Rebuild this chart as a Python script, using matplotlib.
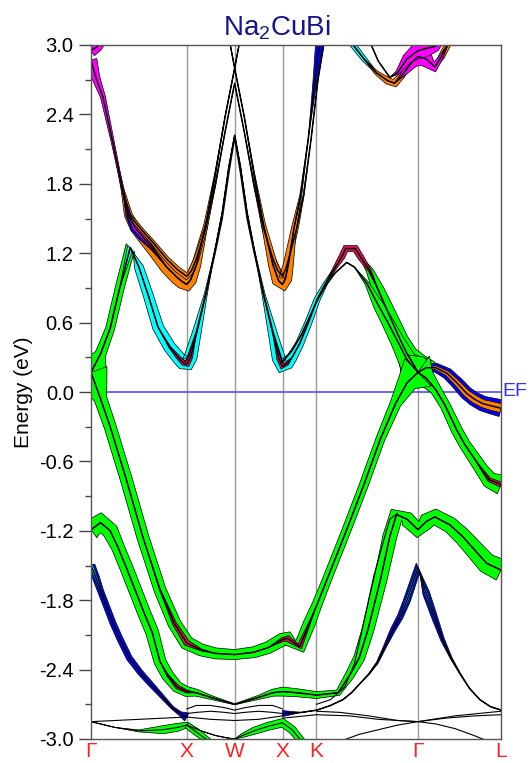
import matplotlib.pyplot as plt
import numpy as np
from matplotlib.ticker import MultipleLocator

plt.rcParams['font.family'] = ['Liberation Sans', 'DejaVu Sans']
plt.rcParams['axes.unicode_minus'] = False
plt.rcParams['mathtext.default'] = 'regular'

# high-symmetry path of the fcc zone (units of 2pi/a)
k_sym = [0.0, 1.0, 1.5, 2.0, 2.354, 3.414, 4.281]
k_names = ['Γ', 'X', 'W', 'X', 'K', 'Γ', 'L']
e_ticks = [-3.0, -2.4, -1.8, -1.2, -0.6, 0.0, 0.6, 1.2, 1.8, 2.4, 3.0]

GREEN = '#00ff00'
CYAN = '#00ffff'
ORANGE = '#ff8000'
MAGENTA = '#ff00ff'
BLUE = '#0000ff'
RED = '#e0105a'

# ---- conduction bands ----
# lowest conduction band along the whole path G-X-W-X-K-G
k_c1 = [0.0, 0.1, 0.2, 0.3, 0.41, 0.5, 0.6, 0.7, 0.82, 0.92,
        0.97, 1.0, 1.04, 1.1, 1.2, 1.3, 1.37, 1.44, 1.5, 1.56,
        1.63, 1.7, 1.8, 1.9, 1.96, 2.0, 2.05, 2.1, 2.18, 2.27,
        2.36, 2.45, 2.53, 2.62, 2.66, 2.76, 2.82, 2.91, 3.0, 3.09,
        3.16, 3.23, 3.3, 3.36, 3.414]
e_c1 = [0.17, 0.33, 0.55, 0.9, 1.25, 1.08, 0.83, 0.56, 0.39, 0.29,
        0.25, 0.24, 0.3, 0.5, 0.85, 1.25, 1.55, 1.95, 2.22, 1.95,
        1.55, 1.25, 0.85, 0.5, 0.29, 0.22, 0.25, 0.3, 0.42, 0.6,
        0.8, 0.94, 1.05, 1.17, 1.24, 1.24, 1.16, 1.05, 0.88, 0.71,
        0.58, 0.45, 0.33, 0.25, 0.17]
w_c1_green = [1.7, 0.55, 0.45, 0.45, 0.55, 0.3, 0, 0, 0, 0,
              0, 0, 0, 0, 0, 0, 0, 0, 0, 0,
              0, 0, 0, 0, 0, 0, 0, 0, 0, 0,
              0, 0, 0, 0, 0, 0, 0.1, 0.35, 0.6, 0.7,
              0.75, 0.8, 1.0, 1.4, 2.0]
w_c1_cyan = [0, 0, 0, 0, 0.35, 0.45, 0.5, 0.55, 0.6, 0.65,
             0.7, 0.7, 0.65, 0.45, 0.15, 0, 0, 0, 0, 0,
             0, 0, 0.15, 0.45, 0.65, 0.7, 0.65, 0.5, 0.4, 0.35,
             0.3, 0.2, 0.1, 0, 0, 0, 0, 0, 0, 0,
             0, 0, 0, 0, 0]
w_c1_red = [0, 0, 0, 0, 0, 0, 0, 0, 0.1, 0.2,
            0.25, 0.3, 0.2, 0, 0, 0, 0, 0, 0, 0,
            0, 0, 0, 0, 0.2, 0.3, 0.2, 0, 0, 0,
            0, 0, 0.15, 0.3, 0.35, 0.35, 0.3, 0.15, 0, 0,
            0, 0, 0, 0, 0]
k_c1b = [1.0, 1.1, 1.2, 1.3, 1.37, 1.44, 1.5, 1.56, 1.63, 1.7, 1.8, 1.9, 2.0]
e_c1b = [0.28, 0.52, 0.85, 1.22, 1.5, 1.9, 2.2, 1.9, 1.5, 1.22, 0.85, 0.52, 0.26]

k_c2 = [2.0, 2.1, 2.2, 2.3, 2.36, 2.45, 2.55, 2.67, 2.75, 2.88, 3.0, 3.1, 3.2, 3.3, 3.414]
e_c2 = [0.26, 0.36, 0.5, 0.68, 0.79, 0.92, 1.03, 1.12, 1.08, 0.94, 0.75, 0.6, 0.44, 0.28, 0.17]
w_c2_green = [0, 0, 0, 0, 0, 0, 0, 0, 0, 0.2, 0.5, 0.6, 0.7, 0.9, 1.8]

k_u0 = [0.0, 0.07, 0.15]
e_u0 = [2.95, 2.99, 3.06]
w_u0_magenta = [0.6, 0.5, 0.3]

k_u1 = [0.0, 0.05, 0.125, 0.23, 0.33, 0.39, 0.46, 0.54, 0.65, 0.79,
        0.9, 0.96, 1.0, 1.04, 1.1, 1.2, 1.3, 1.4, 1.5, 1.58]
e_u1 = [2.87, 2.72, 2.55, 2.15, 1.75, 1.53, 1.42, 1.34, 1.23, 1.08,
        0.99, 0.95, 0.93, 0.97, 1.1, 1.45, 1.9, 2.38, 2.8, 3.15]
w_u1_orange = [0, 0, 0, 0, 0.15, 0.4, 0.5, 0.55, 0.6, 0.65,
               0.7, 0.7, 0.7, 0.6, 0.45, 0.2, 0.05, 0, 0, 0]
w_u1_blue = [0, 0, 0, 0, 0, 0.25, 0.45, 0.4, 0.15, 0,
             0, 0, 0, 0, 0, 0, 0, 0, 0, 0]
w_u1_magenta = [0.6, 0.4, 0.25, 0.15, 0.1, 0.1, 0.25, 0.2, 0.1, 0,
                0, 0, 0, 0, 0, 0, 0, 0, 0, 0]

k_u2 = [0.39, 0.46, 0.54, 0.65, 0.79, 0.9, 1.0, 1.05, 1.1, 1.2,
        1.3, 1.4, 1.5, 1.6, 1.7, 1.8, 1.9, 1.95, 2.0, 2.04,
        2.08, 2.15, 2.22, 2.3, 2.37, 2.44]
e_u2 = [1.53, 1.47, 1.39, 1.29, 1.15, 1.06, 1.0, 1.05, 1.15, 1.42,
        1.8, 2.25, 2.67, 2.25, 1.8, 1.42, 1.15, 1.05, 1.0, 1.08,
        1.2, 1.42, 1.7, 2.2, 2.7, 3.05]
w_u2_orange = [0.1, 0.2, 0.2, 0.2, 0.25, 0.3, 0.35, 0.3, 0.25, 0.15,
               0.05, 0, 0, 0, 0.05, 0.15, 0.25, 0.3, 0.35, 0.3,
               0.25, 0.15, 0.05, 0, 0, 0]

k_u3 = [1.42, 1.5, 1.6, 1.7, 1.8, 1.9, 1.96, 2.0, 2.03, 2.06, 2.12, 2.19, 2.27, 2.34, 2.39]
e_u3 = [3.15, 2.8, 2.38, 1.9, 1.45, 1.1, 0.96, 0.93, 0.98, 1.1, 1.42, 1.7, 2.2, 2.7, 3.05]
w_u3_orange = [0, 0, 0, 0.05, 0.2, 0.45, 0.65, 0.7, 0.65, 0.5, 0.25, 0.1, 0, 0, 0]
w_u3_blue = [0, 0, 0, 0, 0, 0, 0, 0, 0, 0, 0, 0, 0, 0.2, 0.4]

k_ta = [2.69, 2.85, 2.98, 3.1, 3.17, 3.25, 3.35, 3.414, 3.5, 3.59, 3.66, 3.74]
e_ta = [3.05, 2.88, 2.76, 2.69, 2.67, 2.74, 2.85, 2.9, 2.88, 2.81, 2.9, 3.03]
w_ta_cyan = [0.3, 0.25, 0.1, 0, 0, 0, 0, 0, 0, 0, 0, 0]
w_ta_orange = [0, 0, 0.2, 0.35, 0.4, 0.3, 0, 0, 0, 0.2, 0.3, 0.3]
w_ta_magenta = [0, 0, 0, 0, 0, 0.2, 0.6, 0.9, 0.8, 0.5, 0.2, 0]
k_tb = [2.9, 3.0, 3.12, 3.2, 3.3, 3.414, 3.5, 3.6, 3.66]
e_tb = [3.05, 2.86, 2.72, 2.76, 2.88, 2.95, 2.97, 2.99, 3.05]
w_tb_magenta = [0, 0, 0, 0.2, 0.5, 0.8, 0.8, 0.5, 0.3]

k_ra = [3.414, 3.5, 3.6, 3.72, 3.82, 3.92, 4.0, 4.09, 4.18, 4.281]
e_ra = [0.17, 0.21, 0.21, 0.16, 0.08, -0.01, -0.06, -0.10, -0.12, -0.14]
w_ra_green = [2.0, 1.1, 0, 0, 0, 0, 0, 0, 0, 0]
w_ra_blue = [0, 0.35, 0.45, 0.55, 0.6, 0.65, 0.7, 0.75, 0.8, 0.85]
w_ra_orange = [0, 0.1, 0.2, 0.25, 0.3, 0.35, 0.4, 0.4, 0.45, 0.45]

k_rb = [3.414, 3.5, 3.6, 3.7, 3.82, 3.9, 3.99, 4.08, 4.16, 4.281]
e_rb = [0.17, 0.12, 0.02, -0.12, -0.33, -0.45, -0.56, -0.67, -0.76, -0.80]
w_rb_green = [2.0, 0.9, 0.55, 0.5, 0.55, 0.55, 0.6, 0.65, 0.8, 1.0]
w_rb_red = [0, 0, 0, 0, 0, 0, 0, 0.1, 0.2, 0.25]

# ---- valence bands ----
k_va = [0.0, 0.1, 0.2, 0.37, 0.54, 0.72, 0.87, 1.0, 1.15, 1.3, 1.5, 1.7, 1.85,
        2.0, 2.05, 2.18, 2.28, 2.354, 2.46, 2.67, 2.85, 3.02, 3.18, 3.3, 3.414]
e_va = [0.17, -0.06, -0.30, -0.76, -1.25, -1.71, -2.0, -2.17, -2.23, -2.26, -2.27, -2.25, -2.21,
        -2.14, -2.13, -2.2, -2.0, -1.85, -1.63, -1.19, -0.8, -0.41, -0.1, 0.08, 0.17]
w_va_green = [1.7, 0.65, 0.6, 0.6, 0.6, 0.6, 0.65, 0.7, 0.6, 0.55, 0.5, 0.55, 0.6,
              0.65, 0.7, 0.7, 0.6, 0.5, 0.45, 0.45, 0.45, 0.45, 0.55, 1.0, 1.9]
w_va_red = [0, 0, 0, 0, 0, 0.05, 0.2, 0.3, 0.1, 0, 0, 0, 0,
            0.2, 0.3, 0.3, 0.1, 0, 0, 0, 0, 0, 0, 0, 0]

k_vb = [0.0, 0.1, 0.2, 0.28, 0.37, 0.46, 0.55, 0.64, 0.72, 0.8, 0.9, 1.0,
        1.1, 1.25, 1.5, 1.75, 1.9, 2.0, 2.15, 2.354, 2.58, 2.7, 2.8, 2.89,
        3.02, 3.12, 3.19, 3.3, 3.414, 3.5, 3.59, 3.75, 3.88, 4.0, 4.13, 4.281]
e_vb = [-1.19, -1.13, -1.2, -1.34, -1.52, -1.71, -1.9, -2.08, -2.33, -2.45, -2.55, -2.59,
        -2.6, -2.64, -2.70, -2.64, -2.6, -2.59, -2.6, -2.62, -2.6, -2.45, -2.3, -2.06,
        -1.63, -1.25, -1.06, -1.1, -1.19, -1.12, -1.08, -1.15, -1.25, -1.36, -1.48, -1.54]
w_vb_green = [1.0, 1.0, 0.8, 0.65, 0.65, 0.65, 0.65, 0.65, 0.6, 0.6, 0.55, 0.5,
              0.35, 0.2, 0.05, 0.2, 0.35, 0.45, 0.4, 0.35, 0.3, 0.45, 0.55, 0.6,
              0.65, 0.7, 0.75, 0.75, 0.8, 0.8, 0.8, 0.8, 0.85, 0.9, 1.0, 1.1]
w_vb_red = [0, 0, 0, 0, 0, 0, 0, 0, 0, 0.1, 0.2, 0.15,
            0, 0, 0, 0, 0, 0, 0, 0, 0, 0, 0, 0,
            0, 0, 0, 0, 0, 0, 0, 0, 0, 0, 0, 0]

k_vc = [2.354, 2.5, 2.65, 2.75, 2.83, 2.95, 3.05, 3.12, 3.2]
e_vc = [-2.7, -2.66, -2.55, -2.35, -2.06, -1.6, -1.3, -1.1, -1.05]

k_ba = [0.0, 0.05, 0.1, 0.17, 0.23, 0.3, 0.4, 0.52, 0.64, 0.75, 0.85, 0.93, 1.0]
e_ba = [-1.5, -1.6, -1.72, -1.87, -2.0, -2.13, -2.3, -2.43, -2.54, -2.64, -2.73, -2.78, -2.81]
w_ba_blue = [0.4, 0.35, 0.3, 0.3, 0.3, 0.3, 0.3, 0.28, 0.25, 0.2, 0.15, 0.2, 0.45]
w_ba_cyan = [0.2, 0.15, 0.1, 0, 0, 0, 0, 0, 0, 0, 0, 0, 0]

k_bb = [2.0, 2.2, 2.36, 2.5, 2.63, 2.72, 2.81, 2.9, 2.99, 3.07, 3.15, 3.23,
        3.3, 3.414, 3.5, 3.58, 3.67, 3.76, 3.85, 3.95, 4.06, 4.17, 4.281]
e_bb = [-2.78, -2.77, -2.75, -2.71, -2.66, -2.6, -2.52, -2.44, -2.34, -2.2, -2.06, -1.94,
        -1.8, -1.52, -1.74, -1.93, -2.14, -2.3, -2.43, -2.56, -2.66, -2.72, -2.75]
w_bb_blue = [0.3, 0, 0, 0, 0, 0, 0, 0.05, 0.1, 0.15, 0.25, 0.3,
             0.35, 0.5, 0.35, 0.3, 0.2, 0.1, 0.05, 0, 0, 0, 0]
w_bb_cyan = [0, 0, 0, 0, 0, 0, 0, 0, 0, 0, 0.05, 0.1,
             0.15, 0.2, 0.15, 0.1, 0.05, 0, 0, 0, 0, 0, 0]

# ---- flat bands near the bottom ----
k_fa = [0.0, 0.5, 1.0, 1.25, 1.5, 1.75, 2.0]
e_fa = [-2.85, -2.83, -2.81, -2.83, -2.84, -2.83, -2.8]
k_fb = [0.0, 0.25, 0.5, 0.75, 0.9, 1.0, 1.15, 1.3, 1.42, 1.5, 1.58, 1.7, 1.85, 2.0, 2.1, 2.2]
e_fb = [-2.85, -2.9, -2.93, -2.92, -2.9, -2.88, -2.93, -2.97, -2.99, -3.0, -2.97, -2.93,
        -2.89, -2.86, -2.92, -3.02]
w_fb_green = [0, 0, 0.1, 0.4, 0.4, 0.3, 0, 0, 0, 0, 0.2, 0.35, 0.4, 0.45, 0.4, 0.35]
k_fc = [1.0, 1.1, 1.25, 1.4, 1.5, 1.6, 1.75, 1.9, 2.0]
e_fc = [-2.74, -2.71, -2.71, -2.73, -2.75, -2.73, -2.71, -2.71, -2.74]
e_fd = [-2.78, -2.77, -2.76, -2.77, -2.78, -2.77, -2.76, -2.77, -2.78]
k_fe = [1.0, 1.1, 1.2, 1.3]
e_fe = [-2.88, -2.94, -3.0, -3.06]
w_fe_green = [0.3, 0.35, 0.3, 0.2]

k_ga = [2.0, 2.354, 2.7, 3.0, 3.414, 3.8, 4.281]
e_ga = [-2.82, -2.79, -2.8, -2.83, -2.85, -2.8, -2.76]
k_gb = [2.354, 2.6, 2.9, 3.2, 3.414, 3.7, 4.0, 4.281]
e_gb = [-2.76, -2.77, -2.8, -2.84, -2.85, -2.82, -2.8, -2.79]
k_gc = [2.6, 2.8, 3.0, 3.2, 3.414, 3.6, 3.8, 4.0, 4.12]
e_gc = [-3.02, -2.96, -2.92, -2.88, -2.85, -2.87, -2.91, -2.97, -3.01]

FAT_PX = 10.0   # half-width in pixels for unit weight

fig = plt.figure(figsize=(5.31, 7.63), dpi=100)
ax = fig.add_axes([91 / 531, 1 - 739 / 763, 410 / 531, 694 / 763])
ax.set_xlim(k_sym[0], k_sym[-1])
ax.set_ylim(-3.0, 3.0)


def ribbon(k, e, w, color):
    # fat band drawn as a ribbon of constant on-screen thickness
    xy = ax.transData.transform(np.column_stack([k, e]))
    d = np.gradient(xy, axis=0)
    n = np.column_stack([-d[:, 1], d[:, 0]])
    n /= np.hypot(n[:, 0], n[:, 1])[:, None]
    half = FAT_PX * np.asarray(w, float)[:, None]
    poly = np.vstack([xy + n * half, (xy - n * half)[::-1]])
    poly = ax.transData.inverted().transform(poly)
    ax.fill(poly[:, 0], poly[:, 1], fc=color, ec='black', lw=0.5, zorder=2)


def band(k, e, lw=1.1):
    ax.plot(k, e, color='black', lw=lw, zorder=3, solid_joinstyle='round')


for x in k_sym[1:-1]:
    ax.axvline(x, color='#9a9a9a', lw=1.0, zorder=1)
ax.axhline(0.0, color='#5a5aff', lw=1.3, zorder=1.5)

# fat bands (outer character first)
ribbon(k_c1, e_c1, w_c1_green, GREEN)
ribbon(k_c1, e_c1, w_c1_cyan, CYAN)
ribbon(k_c1, e_c1, w_c1_red, RED)
ribbon(k_c2, e_c2, w_c2_green, GREEN)
ribbon(k_u0, e_u0, w_u0_magenta, MAGENTA)
ribbon(k_u1, e_u1, w_u1_orange, ORANGE)
ribbon(k_u1, e_u1, w_u1_blue, BLUE)
ribbon(k_u1, e_u1, w_u1_magenta, MAGENTA)
ribbon(k_u2, e_u2, w_u2_orange, ORANGE)
ribbon(k_u3, e_u3, w_u3_orange, ORANGE)
ribbon(k_u3, e_u3, w_u3_blue, BLUE)
ribbon(k_ta, e_ta, w_ta_cyan, CYAN)
ribbon(k_ta, e_ta, w_ta_orange, ORANGE)
ribbon(k_ta, e_ta, w_ta_magenta, MAGENTA)
ribbon(k_tb, e_tb, w_tb_magenta, MAGENTA)
ribbon(k_ra, e_ra, w_ra_green, GREEN)
ribbon(k_ra, e_ra, w_ra_blue, BLUE)
ribbon(k_ra, e_ra, w_ra_orange, ORANGE)
ribbon(k_rb, e_rb, w_rb_green, GREEN)
ribbon(k_rb, e_rb, w_rb_red, RED)
ribbon(k_va, e_va, w_va_green, GREEN)
ribbon(k_va, e_va, w_va_red, RED)
ribbon(k_vb, e_vb, w_vb_green, GREEN)
ribbon(k_vb, e_vb, w_vb_red, RED)
ribbon(k_ba, e_ba, w_ba_blue, BLUE)
ribbon(k_ba, e_ba, w_ba_cyan, CYAN)
ribbon(k_bb, e_bb, w_bb_blue, BLUE)
ribbon(k_bb, e_bb, w_bb_cyan, CYAN)
ribbon(k_fb, e_fb, w_fb_green, GREEN)
ribbon(k_fe, e_fe, w_fe_green, GREEN)

# band lines
for k, e in [(k_c1, e_c1), (k_c1b, e_c1b), (k_c2, e_c2), (k_u0, e_u0), (k_u1, e_u1),
             (k_u2, e_u2), (k_u3, e_u3), (k_ta, e_ta), (k_tb, e_tb), (k_ra, e_ra),
             (k_rb, e_rb), (k_va, e_va), (k_vb, e_vb), (k_ba, e_ba), (k_bb, e_bb)]:
    band(k, e)
for k, e in [(k_vc, e_vc), (k_fa, e_fa), (k_fb, e_fb), (k_fc, e_fc), (k_fc, e_fd),
             (k_fe, e_fe), (k_ga, e_ga), (k_gb, e_gb), (k_gc, e_gc)]:
    band(k, e, lw=0.8)

ax.set_xticks(k_sym)
ax.set_xticklabels(k_names, color='#ff2020', fontsize=15)
ax.tick_params(axis='x', length=0, pad=2)
ax.set_yticks(e_ticks)
ax.set_yticklabels([f'{v:.1f}' for v in e_ticks])
ax.yaxis.set_minor_locator(MultipleLocator(0.3))
ax.tick_params(axis='y', which='major', direction='out', length=8.5, width=1, labelsize=14.5,
               color='#444444', pad=4)
ax.tick_params(axis='y', which='minor', direction='out', length=4, width=1, color='#444444')
for s in ax.spines.values():
    s.set_color('#555555')
    s.set_linewidth(1.0)
    s.set_zorder(4)

ax.set_ylabel('Energy (eV)', fontsize=15, labelpad=4)
fig.text(277 / 531, 1 - 28 / 763, 'Na$_2$CuBi', color='#15158f', fontsize=20,
         ha='center', va='center')
ax.text(1.004, 0.0, 'EF', transform=ax.get_yaxis_transform(), color='#3030ff',
        fontsize=14, va='center', ha='left', clip_on=False)

fig.savefig('out.png', dpi=100)
